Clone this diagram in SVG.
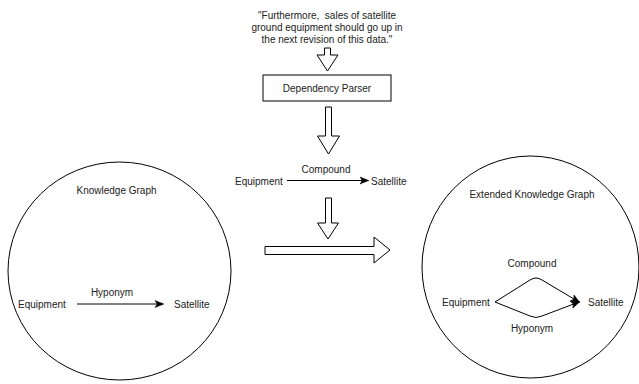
<svg xmlns="http://www.w3.org/2000/svg" width="639" height="384" viewBox="0 0 639 384">
  <defs>
    <style>
      text { font-family: "Liberation Sans", Arial, sans-serif; font-size: 10px; fill: #222; }
      .c { text-anchor: middle; }
      .pre { white-space: pre; }
      .shape { fill: #fff; stroke: #000; stroke-width: 1; }
      .edge { fill: none; stroke: #000; stroke-width: 1; }
    </style>
    <marker id="arrow" viewBox="0 0 10 10" refX="9" refY="5" markerWidth="9" markerHeight="9" markerUnits="userSpaceOnUse" orient="auto">
      <path d="M0,1 L10,5 L0,9 L2.5,5 Z" fill="#000" stroke="#000" stroke-width="0.5"/>
    </marker>
  </defs>
  <rect width="639" height="384" fill="#fff"/>

  <g id="sentence">
    <text class="c pre" x="327" y="19" xml:space="preserve">"Furthermore,  sales of satellite</text>
    <text class="c" x="327" y="31">ground equipment should go up in</text>
    <text class="c" x="327" y="43">the next revision of this data."</text>
  </g>

  <g id="parser">
    <rect class="shape" x="263" y="75" width="128" height="26"/>
    <text class="c" x="327" y="91.5">Dependency Parser</text>
  </g>

  <g id="kg">
    <ellipse class="shape" cx="119.5" cy="271" rx="111.5" ry="109"/>
    <text class="c" x="116.5" y="193.5">Knowledge Graph</text>
    <text x="18" y="307.5">Equipment</text>
    <text x="174" y="307.5">Satellite</text>
    <text class="c" x="112" y="296">Hyponym</text>
  </g>

  <g id="parsed">
    <text x="235" y="184.5">Equipment</text>
    <text x="371" y="184.5">Satellite</text>
    <text class="c" x="326" y="172.5">Compound</text>
  </g>

  <g id="ekg">
    <ellipse class="shape" cx="530.5" cy="267" rx="108.5" ry="111"/>
    <text class="c" x="532" y="197.5">Extended Knowledge Graph</text>
    <text x="442" y="305.5">Equipment</text>
    <text x="588" y="305.5">Satellite</text>
    <text class="c" x="532" y="266.5">Compound</text>
    <text class="c" x="532" y="331.5">Hyponym</text>
  </g>

  <g id="arrows">
    <polygon class="shape" points="324.5,48 330.5,48 330.5,55 338,55 327.5,71 317,55 324.5,55"/>
    <polygon class="shape" points="325.5,107 331.5,107 331.5,136 339.5,136 328.5,154 317.5,136 325.5,136"/>
    <polygon class="shape" points="325.5,198 331.5,198 331.5,223 338.5,223 328,239 317.5,223 325.5,223"/>
    <polygon class="shape" points="265,246.5 374,246.5 374,237 390,250 374,263 374,254.5 265,254.5"/>
  </g>

  <g id="connectors">
    <line class="edge" x1="77" y1="304" x2="163" y2="304" marker-end="url(#arrow)"/>
    <line class="edge" x1="287" y1="180.5" x2="368" y2="180.5" marker-end="url(#arrow)"/>
    <path class="edge" d="M495,302 L530,280 Q536,276 542,280 L579,302" marker-end="url(#arrow)"/>
    <path class="edge" d="M495,302 L530,316 Q536,319 542,316 L579,302" marker-end="url(#arrow)"/>
  </g>
</svg>
